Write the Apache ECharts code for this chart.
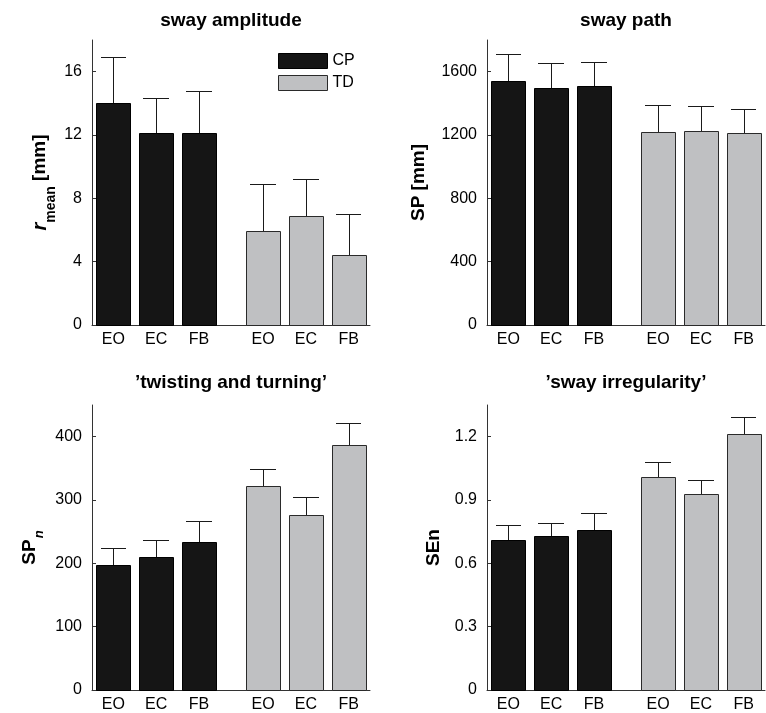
<!DOCTYPE html>
<html>
<head>
<meta charset="utf-8">
<script src="https://cdn.jsdelivr.net/npm/echarts@6/dist/echarts.min.js"></script>
<style>
html,body{margin:0;padding:0;background:#fff;}
#c{width:766px;height:713px;}
</style>
</head>
<body>
<div id="c"></div>
<script>
// ---- data ----
const categories = ['EO', 'EC', 'FB'];
const groups = ['CP', 'TD'];

const titles = ['sway amplitude', 'sway path', '\u2019twisting and turning\u2019', '\u2019sway irregularity\u2019'];

const ampMeanCP = [14.0, 12.1, 12.15];
const ampSdCP   = [2.95, 2.25, 2.65];
const ampMeanTD = [5.95, 6.9, 4.4];
const ampSdTD   = [2.95, 2.3, 2.6];

const pathMeanCP = [1543, 1497, 1510];
const pathSdCP   = [167, 156, 149];
const pathMeanTD = [1221, 1225, 1211];
const pathSdTD   = [167, 156, 151];

const twistMeanCP = [197, 209.5, 233];
const twistSdCP   = [27, 28, 34];
const twistMeanTD = [321.5, 277, 387];
const twistSdTD   = [27.5, 28, 35];

const irrMeanCP = [0.71, 0.73, 0.758];
const irrSdCP   = [0.071, 0.063, 0.082];
const irrMeanTD = [1.008, 0.93, 1.211];
const irrSdTD   = [0.071, 0.065, 0.082];

const ampTicks   = [0, 4, 8, 12, 16];
const pathTicks  = [0, 400, 800, 1200, 1600];
const twistTicks = [0, 100, 200, 300, 400];
const irrTicks   = [0, 0.3, 0.6, 0.9, 1.2];

// ---- layout / style ----
const panels = [
  { means: [ampMeanCP, ampMeanTD], sds: [ampSdCP, ampSdTD], ticks: ampTicks, max: 18,
    grid: { left: 92, top: 40 }, name: '{r|r}{s|mean}{m| [mm]}', nameGap: 40 },
  { means: [pathMeanCP, pathMeanTD], sds: [pathSdCP, pathSdTD], ticks: pathTicks, max: 1800,
    grid: { left: 487, top: 40 }, name: '{m|SP [mm]}', nameGap: 56 },
  { means: [twistMeanCP, twistMeanTD], sds: [twistSdCP, twistSdTD], ticks: twistTicks, max: 450,
    grid: { left: 92, top: 405 }, name: '{m|SP}{si|n}', nameGap: 50 },
  { means: [irrMeanCP, irrMeanTD], sds: [irrSdCP, irrSdTD], ticks: irrTicks, max: 1.35,
    grid: { left: 487, top: 405 }, name: '{m|SEn}', nameGap: 41 }
];
const GW = 278, GH = 285;
const groupStyles = [
  { color: '#151515', borderColor: '#000000', borderWidth: 1 },
  { color: '#bfc0c2', borderColor: '#2a2a2a', borderWidth: 1 }
];
const FONT = '"Liberation Sans", Arial, Helvetica, sans-serif';
const AX = '#333333';

function xPos(gi, ci) { return 1 + gi * 3.5 + ci; }
const xLabelValues = [];
const xLabelMap = {};
groups.forEach((g, gi) => categories.forEach((c, ci) => {
  const v = xPos(gi, ci); xLabelValues.push(v); xLabelMap[v] = c;
}));

function renderItem(params, api) {
  const x = api.value(0), m = api.value(1), sd = api.value(2);
  const tl = api.coord([x - 0.4, m]);
  const br = api.coord([x + 0.4, 0]);
  const top = api.coord([x, m + sd]);
  const cl = api.coord([x - 0.3, m + sd]);
  const cr = api.coord([x + 0.3, m + sd]);
  const st = groupStyles[params.seriesName === 'CP' ? 0 : 1];
  const cx = Math.round(top[0]) + 0.5;
  const ty = Math.round(top[1]) + 0.5;
  return {
    type: 'group',
    children: [
      { type: 'rect',
        shape: { x: Math.round(tl[0]) + 0.5, y: Math.round(tl[1]) + 0.5,
                 width: Math.round(br[0] - tl[0]), height: Math.round(br[1] - tl[1]) },
        style: { fill: st.color, stroke: st.borderColor, lineWidth: 1 } },
      { type: 'line', shape: { x1: cx, y1: Math.round(tl[1]), x2: cx, y2: ty },
        style: { stroke: '#1a1a1a', lineWidth: 1 } },
      { type: 'line', shape: { x1: Math.round(cl[0]), y1: ty, x2: Math.round(cr[0]), y2: ty },
        style: { stroke: '#1a1a1a', lineWidth: 1 } }
    ]
  };
}

const grid = [], xAxis = [], yAxis = [], series = [], title = [];
panels.forEach((p, i) => {
  grid.push({ left: p.grid.left, top: p.grid.top, width: GW, height: GH });
  xAxis.push({
    gridIndex: i, type: 'value', min: 0.5, max: 7,
    axisLine: { show: true, lineStyle: { color: AX, width: 1 } },
    axisTick: { show: false }, splitLine: { show: false },
    axisLabel: { customValues: xLabelValues, formatter: v => xLabelMap[v] || '',
                 fontSize: 16, color: '#000', fontFamily: FONT, margin: 7 }
  });
  yAxis.push({
    gridIndex: i, type: 'value', min: 0, max: p.max,
    axisLine: { show: true, lineStyle: { color: AX, width: 1 } },
    axisTick: { show: true, inside: true, length: 4, customValues: p.ticks, lineStyle: { color: AX } },
    splitLine: { show: false },
    axisLabel: { customValues: p.ticks, formatter: v => String(v), fontSize: 16, color: '#000', fontFamily: FONT, margin: 10 },
    name: p.name, nameLocation: 'middle', nameRotate: 90, nameGap: p.nameGap,
    nameTextStyle: {
      fontFamily: FONT, color: '#000',
      rich: {
        r: { fontSize: 20, fontWeight: 'bold', fontStyle: 'italic', fontFamily: FONT, lineHeight: 22, verticalAlign: 'top', color: '#000' },
        s: { fontSize: 14, fontWeight: 'bold', fontFamily: FONT, lineHeight: 14, padding: [14, 0, 0, 0], verticalAlign: 'top', color: '#000' },
        si: { fontSize: 13, fontWeight: 'bold', fontStyle: 'italic', fontFamily: FONT, lineHeight: 13, padding: [13, 0, 0, 1], verticalAlign: 'top', color: '#000' },
        m: { fontSize: 19, fontWeight: 'bold', fontFamily: FONT, lineHeight: 22, verticalAlign: 'top', color: '#000' }
      }
    }
  });
  groups.forEach((g, gi) => {
    series.push({
      type: 'custom', name: g, xAxisIndex: i, yAxisIndex: i,
      itemStyle: groupStyles[gi],
      renderItem: renderItem,
      encode: { x: 0, y: 1 },
      data: categories.map((c, ci) => [xPos(gi, ci), p.means[gi][ci], p.sds[gi][ci]])
    });
  });
  title.push({
    text: titles[i], left: p.grid.left + GW / 2, top: i < 2 ? 10 : 372, textAlign: 'center', padding: 0,
    textStyle: { fontSize: 19, fontWeight: 'bold', fontFamily: FONT, color: '#000', lineHeight: 22 }
  });
});

const chart = echarts.init(document.getElementById('c'), null, { renderer: 'canvas' });
chart.setOption({
  animation: false,
  backgroundColor: '#fff',
  title: title,
  legend: {
    orient: 'vertical', left: 278, top: 53, itemWidth: 49, itemHeight: 15, itemGap: 6,
    icon: 'rect', padding: 0, selectedMode: false,
    textStyle: { fontSize: 16, fontFamily: FONT, color: '#000' },
    data: [
      { name: 'CP', itemStyle: groupStyles[0] },
      { name: 'TD', itemStyle: groupStyles[1] }
    ]
  },
  grid: grid, xAxis: xAxis, yAxis: yAxis, series: series
});
</script>
</body>
</html>
